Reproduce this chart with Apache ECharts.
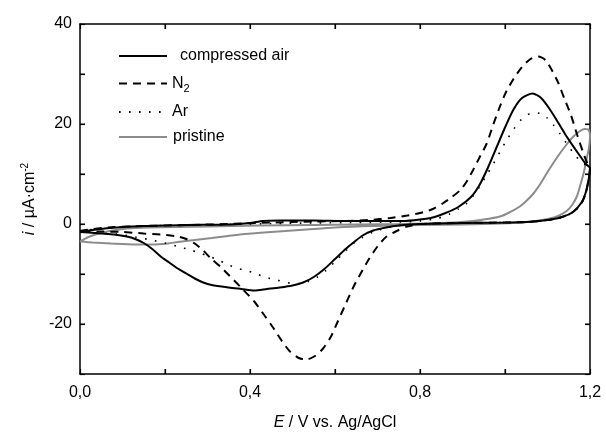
<!DOCTYPE html>
<html>
<head>
<meta charset="utf-8">
<script src="https://cdn.jsdelivr.net/npm/echarts@6/dist/echarts.min.js"></script>
<style>
html,body{margin:0;padding:0;background:#fff;}
#chart{width:606px;height:436px;}
</style>
</head>
<body>
<div id="chart"></div>
<script>
// ---- data (E / V, i / µA·cm-2), anodic sweep then cathodic sweep ----
const seriesNames = ['compressed air', 'N2', 'Ar', 'pristine'];
const xTickLabels = ['0,0', '0,4', '0,8', '1,2'];
const yTickLabels = ['-20', '0', '20', '40'];
const xTickValues = [0.2, 0.4, 0.6, 0.8, 1.0];
const yTickValues = [-20, -10, 0, 10, 20, 30];

const compressedAir = [
  [0,-1.6],[0.03,-1.2],[0.07,-0.8],[0.15,-0.4],[0.25,-0.2],[0.35,-0.1],[0.4,0.2],[0.43,0.6],[0.47,0.7],
  [0.55,0.7],[0.62,0.6],[0.7,0.6],[0.76,0.6],[0.8,0.9],[0.83,1.3],[0.86,2.2],[0.89,3.4],[0.92,5.4],
  [0.94,7.8],[0.96,11.3],[0.98,15.3],[1.0,19.3],[1.02,22.9],[1.04,25.2],[1.065,26.1],[1.085,25.2],
  [1.105,23.0],[1.125,20.3],[1.145,17.5],[1.165,15.0],[1.18,13.2],[1.19,12.0],[1.2,11.2],
  [1.197,9.0],[1.19,6.3],[1.18,4.3],[1.16,2.4],[1.13,1.3],[1.1,0.8],[1.05,0.4],[1.0,0.3],[0.9,0.2],
  [0.8,0.0],[0.75,-0.3],[0.72,-0.7],[0.69,-1.3],[0.665,-2.3],[0.645,-3.6],[0.625,-5.0],[0.6,-7.0],
  [0.575,-9.0],[0.55,-10.6],[0.525,-11.7],[0.5,-12.3],[0.47,-12.7],[0.44,-13.0],[0.41,-13.3],
  [0.38,-13.0],[0.35,-12.7],[0.31,-12.2],[0.29,-11.7],[0.27,-10.9],[0.25,-9.9],[0.23,-8.9],
  [0.21,-7.7],[0.19,-6.5],[0.17,-5.0],[0.15,-3.8],[0.13,-3.0],[0.11,-2.5],[0.08,-2.1],[0.05,-1.9],
  [0.02,-1.7],[0,-1.6]
];

const nitrogen = [
  [0,-1.4],[0.03,-1.0],[0.08,-0.6],[0.15,-0.4],[0.25,-0.2],[0.35,0.0],[0.45,0.3],[0.55,0.5],[0.62,0.6],
  [0.68,0.8],[0.73,1.2],[0.77,1.7],[0.8,2.2],[0.83,3.0],[0.855,4.2],[0.875,5.4],[0.895,6.8],[0.91,8.5],
  [0.925,10.8],[0.94,13.3],[0.957,16.1],[0.972,19.8],[0.988,23.5],[1.003,26.5],[1.02,29.0],[1.04,31.4],
  [1.06,33.0],[1.078,33.5],[1.095,32.8],[1.11,30.8],[1.125,28.3],[1.14,25.0],[1.155,21.8],[1.17,17.8],
  [1.183,14.5],[1.193,12.3],[1.2,11.3],
  [1.197,9.0],[1.19,6.2],[1.18,4.2],[1.16,2.4],[1.13,1.3],[1.1,0.8],[1.05,0.4],[1.0,0.3],[0.9,0.2],
  [0.8,0.0],[0.77,-0.5],[0.745,-1.4],[0.72,-2.6],[0.7,-4.5],[0.68,-7.0],[0.665,-9.2],[0.645,-12.3],
  [0.625,-16.0],[0.605,-19.8],[0.59,-22.6],[0.572,-24.9],[0.553,-26.4],[0.533,-27.1],[0.515,-26.8],
  [0.494,-25.5],[0.475,-23.4],[0.455,-20.8],[0.435,-18.4],[0.41,-15.5],[0.38,-12.8],[0.35,-10.2],
  [0.33,-8.5],[0.308,-6.9],[0.29,-5.3],[0.27,-3.9],[0.25,-3.0],[0.23,-2.5],[0.19,-2.1],[0.15,-1.9],
  [0.1,-1.6],[0.05,-1.5],[0,-1.4]
];

const argon = [
  [0,-1.5],[0.03,-1.1],[0.08,-0.7],[0.15,-0.4],[0.25,-0.2],[0.35,-0.1],[0.45,0.1],[0.55,0.2],[0.65,0.3],
  [0.75,0.4],[0.8,0.6],[0.84,1.1],[0.87,2.0],[0.89,3.0],[0.91,4.1],[0.925,5.6],[0.94,7.4],[0.957,9.8],
  [0.973,12.1],[0.99,14.7],[1.004,16.8],[1.02,18.9],[1.035,20.6],[1.05,21.7],[1.067,22.3],[1.083,22.1],
  [1.098,21.3],[1.113,19.9],[1.129,18.1],[1.145,16.1],[1.161,14.2],[1.175,12.8],[1.188,11.9],[1.2,11.2],
  [1.197,9.0],[1.19,6.1],[1.18,4.1],[1.16,2.3],[1.13,1.2],[1.1,0.7],[1.05,0.4],[1.0,0.3],[0.9,0.2],
  [0.8,0.0],[0.75,-0.3],[0.72,-0.8],[0.69,-1.6],[0.665,-2.7],[0.643,-3.9],[0.625,-5.4],[0.604,-7.2],
  [0.58,-9.2],[0.557,-10.7],[0.535,-11.6],[0.518,-11.9],[0.5,-11.9],[0.486,-11.7],[0.463,-11.2],
  [0.439,-10.7],[0.416,-10.0],[0.392,-9.3],[0.372,-8.9],[0.35,-8.2],[0.325,-7.2],[0.305,-6.5],
  [0.285,-5.9],[0.26,-5.2],[0.23,-4.5],[0.2,-3.8],[0.167,-3.2],[0.13,-2.6],[0.096,-2.1],[0.06,-1.9],
  [0.02,-1.7],[0,-1.5]
];

const pristine = [
  [0,-3.5],[0.02,-2.6],[0.04,-2.0],[0.07,-1.4],[0.11,-0.9],[0.16,-0.7],[0.23,-0.6],[0.3,-0.5],[0.42,-0.3],
  [0.55,-0.2],[0.65,-0.1],[0.75,0.0],[0.85,0.2],[0.91,0.5],[0.95,0.9],[0.988,1.5],[1.01,2.3],[1.035,3.5],
  [1.05,4.6],[1.067,6.1],[1.083,8.0],[1.098,10.1],[1.113,12.1],[1.129,14.1],[1.145,15.9],[1.161,17.5],
  [1.175,18.5],[1.187,19.0],[1.196,18.9],[1.2,17.5],
  [1.197,15.0],[1.192,13.0],[1.186,10.5],[1.178,8.0],[1.169,5.5],[1.158,3.8],[1.145,2.6],[1.125,1.6],
  [1.106,1.1],[1.08,0.7],[1.05,0.4],[0.99,0.1],[0.9,-0.1],[0.8,-0.2],[0.69,-0.4],[0.6,-0.7],[0.533,-1.1],
  [0.45,-1.6],[0.376,-2.1],[0.348,-2.4],[0.31,-2.8],[0.27,-3.2],[0.23,-3.6],[0.207,-3.9],[0.17,-4.1],
  [0.13,-4.1],[0.073,-3.9],[0.03,-3.7],[0,-3.5]
];

// ---- chart ----
const FONT = '"Liberation Sans", Arial, sans-serif';
const X_MIN = 0, X_MAX = 1.2, Y_MIN = -30, Y_MAX = 40;
const chart = echarts.init(document.getElementById('chart'), null, {renderer: 'canvas'});

function near(v, step) { return Math.abs(Math.round(v / step) * step - v) < 1e-6; }

function axisLineStyle() { return {show: true, onZero: false, lineStyle: {color: '#000', width: 1.5}}; }
function tickStyle() { return {show: true, inside: true, length: 5, lineStyle: {color: '#000', width: 1.2}}; }

// inward tick marks on all four sides of the frame, placed through the axis scales
function tickSeries(points, size, offset) {
  return {
    type: 'scatter', data: points, symbol: 'rect', symbolSize: size, symbolOffset: offset,
    itemStyle: {color: '#000'}, silent: true, clip: false, z: 6,
    emphasis: {disabled: true}, tooltip: {show: false}
  };
}

const legendRows = [56, 81, 112, 137];
const legendPad = [[0,0,0,8],[0,0,0,0],[0,0,0,0],[0,0,0,1]];

const option = {
  backgroundColor: '#fff',
  animation: false,
  grid: {left: 80, right: 16, top: 24, bottom: 62, containLabel: false},
  legend: seriesNames.map((n, k) => ({
    data: [n],
    left: 118,
    top: legendRows[k] - 8,
    itemWidth: 48,
    itemHeight: 16,
    itemGap: 0,
    selectedMode: false,
    padding: 0,
    itemStyle: {opacity: 0},
    formatter: (name) => name === 'N2' ? '{m|N}{s|2}' : '{m|' + name + '}',
    textStyle: {
      color: '#000',
      fontFamily: FONT,
      fontSize: 16,
      padding: legendPad[k],
      rich: {
        m: {fontSize: 16, fontFamily: FONT, color: '#000', lineHeight: 16},
        s: {fontSize: 11, fontFamily: FONT, color: '#000', padding: [10, 0, 0, 0], lineHeight: 16}
      }
    }
  })),
  xAxis: [
    {
      type: 'value', min: X_MIN, max: X_MAX, interval: 0.2, position: 'bottom',
      axisLine: axisLineStyle(), axisTick: tickStyle(), splitLine: {show: false},
      axisLabel: {
        color: '#000', fontFamily: FONT, fontSize: 16, margin: 11,
        formatter: (v) => near(v, 0.4) ? xTickLabels[Math.round(v / 0.4)] : ''
      },
      name: '{i|E} / V vs. Ag/AgCl',
      nameLocation: 'middle', nameGap: 41,
      nameTextStyle: {
        color: '#000', fontFamily: FONT, fontSize: 16,
        rich: {i: {fontStyle: 'italic', fontFamily: FONT, fontSize: 16, color: '#000'}}
      }
    },
    {
      type: 'value', min: X_MIN, max: X_MAX, interval: 0.2, position: 'top',
      axisLine: axisLineStyle(), axisTick: tickStyle(), splitLine: {show: false},
      axisLabel: {show: false}
    }
  ],
  yAxis: [
    {
      type: 'value', min: Y_MIN, max: Y_MAX, interval: 10, position: 'left',
      axisLine: axisLineStyle(), axisTick: tickStyle(), splitLine: {show: false},
      axisLabel: {
        color: '#000', fontFamily: FONT, fontSize: 16, margin: 8,
        formatter: (v) => near(v, 20) ? yTickLabels[Math.round((v + 20) / 20)] : ''
      },
      name: '{i|i} / µA·cm{s|-2}',
      nameLocation: 'middle', nameGap: 30, nameRotate: 90,
      nameTextStyle: {
        color: '#000', fontFamily: FONT, fontSize: 16,
        rich: {
          i: {fontStyle: 'italic', fontFamily: FONT, fontSize: 16, color: '#000', lineHeight: 20},
          s: {fontSize: 10, fontFamily: FONT, color: '#000', verticalAlign: 'top', lineHeight: 20, padding: [0, 0, 8, 0]}
        }
      }
    },
    {
      type: 'value', min: Y_MIN, max: Y_MAX, interval: 10, position: 'right',
      axisLine: axisLineStyle(), axisTick: tickStyle(), splitLine: {show: false},
      axisLabel: {show: false}
    }
  ],
  series: [
    {name: 'compressed air', type: 'line', data: compressedAir, symbol: 'none', showSymbol: false, smooth: 0.25,
     lineStyle: {color: '#000', width: 2, type: 'solid'}, itemStyle: {color: '#000'}, z: 4},
    {name: 'N2', type: 'line', data: nitrogen, symbol: 'none', showSymbol: false, smooth: 0.25,
     lineStyle: {color: '#000', width: 2, type: [8, 6]}, itemStyle: {color: '#000'}, z: 3},
    {name: 'Ar', type: 'line', data: argon, symbol: 'none', showSymbol: false, smooth: 0.25,
     lineStyle: {color: '#000', width: 1.6, type: [1.6, 8.4]}, itemStyle: {color: '#000'}, z: 3},
    {name: 'pristine', type: 'line', data: pristine, symbol: 'none', showSymbol: false, smooth: 0.25,
     lineStyle: {color: '#8c8c8c', width: 2, type: 'solid'}, itemStyle: {color: '#8c8c8c'}, z: 2},
    tickSeries(xTickValues.map(v => [v, Y_MIN]), [1.2, 5], [0, -2.5]),
    tickSeries(xTickValues.map(v => [v, Y_MAX]), [1.2, 5], [0, 2.5]),
    tickSeries(yTickValues.map(v => [X_MIN, v]), [5, 1.2], [2.5, 0]),
    tickSeries(yTickValues.map(v => [X_MAX, v]), [5, 1.2], [-2.5, 0])
  ]
};
chart.setOption(option);
</script>
</body>
</html>
